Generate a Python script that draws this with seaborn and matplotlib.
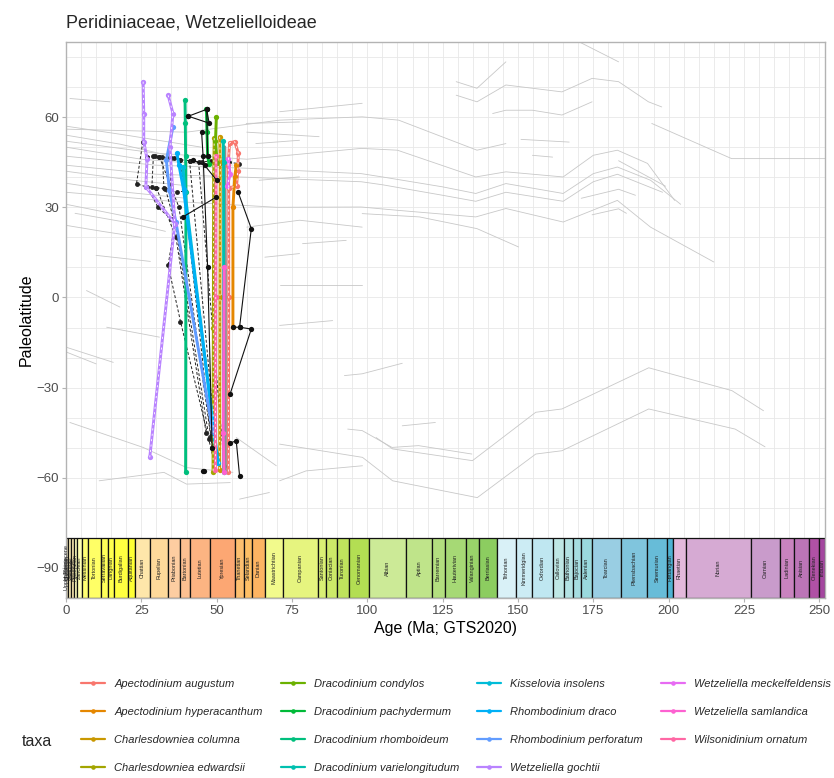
import numpy as np
import pandas as pd
import matplotlib
matplotlib.use("Agg")
import matplotlib.pyplot as plt
from matplotlib.lines import Line2D
import seaborn as sns

# ---- data -----------------------------------------------------------------
taxa = ["Apectodinium augustum", "Apectodinium hyperacanthum", "Charlesdowniea columna",
        "Charlesdowniea edwardsii", "Dracodinium condylos", "Dracodinium pachydermum",
        "Dracodinium rhomboideum", "Dracodinium varielongitudum", "Kisselovia insolens",
        "Rhombodinium draco", "Rhombodinium perforatum", "Wetzeliella gochtii",
        "Wetzeliella meckelfeldensis", "Wetzeliella samlandica", "Wilsonidinium ornatum"]
taxa_colors = ["#F8766D", "#E58700", "#C99800", "#A3A500", "#6BB100", "#00BA38", "#00BF7D",
               "#00C0AF", "#00BCD8", "#00B0F6", "#619CFF", "#B983FF", "#E76BF3", "#FD61D1",
               "#FF67A4"]

# occurrence paths per taxon: list of (ages, paleolatitudes) segments
taxa_paths = {
    "Apectodinium augustum": [([53.8, 54.3, 56.0, 57.2, 57.0, 56.6, 54.0, 53.8], [44, 51.5, 51.8, 48, 42, 37, 36.5, 44]),
                              ([54.0, 54.0, 53.9], [36.5, 0, -58])],
    "Apectodinium hyperacanthum": [([56.5, 56.0, 55.4, 55.4], [44, 40, 30, -9.9])],
    "Charlesdowniea columna": [([51.0, 51.2, 51.1, 51.0], [53.5, 45, 0, -57.5])],
    "Charlesdowniea edwardsii": [([49.2, 49.0, 48.9, 48.8], [53, 40, -10, -58])],
    "Dracodinium condylos": [([49.9, 49.6, 50.2], [60, 52, 44.7])],
    "Dracodinium pachydermum": [([46.6, 46.8, 47.0, 47.5], [62.6, 55, 47, 44.5])],
    "Dracodinium rhomboideum": [([39.5, 39.6, 39.7, 39.8, 39.7], [65.7, 58, 47, 35, -58.2])],
    "Dracodinium varielongitudum": [([52.2, 52.3, 52.3], [52, 45, -58])],
    "Kisselovia insolens": [([38.8, 39.5, 48.5, 50.0], [43.4, 35, -40, -54.3])],
    "Rhombodinium draco": [([36.8, 37.5, 39.0, 50.5], [48, 44, 36, -55])],
    "Rhombodinium perforatum": [([35.5, 33.3, 34.3, 36.5, 48.8], [56.8, 45.7, 35.7, 25, -44.9])],
    "Wetzeliella gochtii": [([25.6, 25.8, 25.8, 26.9, 26.5, 36.1], [71.8, 61.2, 51.8, 46.2, 36.8, 24.6]),
                            ([27.8, 36.1], [-53.2, 24.6]),
                            ([33.9, 35.5, 34.5, 36.1], [67.3, 61.2, 50, 24.6])],
    "Wetzeliella meckelfeldensis": [([53.8, 54.5, 53.5], [46, 41, 37])],
    "Wetzeliella samlandica": [([52.5, 52.2, 52.4], [10, -45, -58])],
    "Wilsonidinium ornatum": [([49.8, 49.7, 49.6], [47, 0, -57.5])],
}
overlap_path = ([52.6, 52.8, 52.8], [50, 10, -58])

black_solid = [
    ([40.6, 46.7, 47.5, 40.6], [60.3, 62.6, 58, 60.3]),
    ([46.7, 47.0], [62.6, 47]),
    ([57.1, 61.5, 57.6], [35.1, 22.9, -9.9]),
    ([55.4, 57.6, 61.5, 54.5], [-9.9, -9.9, -10.5, -32]),
    ([54.3, 56.5, 57.6], [-48.5, -47.7, -59.3]),
    ([38.8, 49.9], [26.8, 33.4]),
    ([42.0, 46.0, 50.0], [45.7, 44, 39]),
    ([45.0, 45.5, 47.0, 48.5], [55, 47, 10, -50]),
    ([45.5, 45.9], [-57.7, -57.6]),
]
black_dashed = [
    ([25.5, 23.4, 26.5, 30.0, 33.0, 36.1], [51.8, 37.9, 36.8, 36.5, 36.2, 24.6]),
    ([26.9, 29.5, 31.0, 33.5, 36.0, 38.0, 41.0, 45.0, 48.0, 51.0, 54.0, 57.5],
     [46.8, 47, 46.8, 46.5, 46.3, 45.8, 45.5, 45, 45.5, 44.8, 45, 44.5]),
    ([29.0, 28.5], [47, 36.8]),
    ([32.0, 32.5], [46.8, 36.4]),
    ([35.0, 34.5, 37.0, 39.5], [46.3, 35.5, 35, 35.5]),
    ([34.5, 47.5], [35.5, -47]),
    ([36.1, 33.9, 38.0, 49.0], [24.6, 10.7, -8, -54]),
    ([38.0, 48.5], [45.8, -50]),
    ([41.0, 50.0], [45.5, -52]),
    ([30.0, 36.5, 46.5], [36.5, 20, -45]),
    ([44.0, 52.5], [45, -56]),
    ([27.0, 30.5, 35.0], [36.8, 30, 26]),
    ([31.0, 37.5, 48.0], [46.8, 30, -46]),
]

# background paleolatitude tracks of other occurrences
bg_tracks = [
    ([0, 30, 60, 98, 110, 136, 146, 165, 175, 183, 193, 202], [52, 48, 46, 49.6, 49, 40.1, 41.8, 40.1, 47.3, 49, 44.6, 32.3]),
    ([0, 30, 60, 98, 105, 125, 136, 146, 165, 175, 183, 194, 204], [47, 44, 43, 41.2, 40.1, 36.8, 34.6, 37.9, 34.6, 41.2, 43.4, 39, 31]),
    ([0, 30, 60, 98, 105, 125, 136, 146, 165, 175, 183, 198], [44, 41, 40, 38.5, 37.5, 34, 32, 35, 32, 38.5, 41, 35]),
    ([0, 35, 70, 98, 110, 136, 146, 165, 183, 194, 215], [35, 32, 30, 30.1, 29, 26.8, 29.6, 25.1, 32.3, 23.4, 11.8]),
    ([0, 40, 70.9, 98.3, 110.4, 136.4, 146], [56, 55, 59, 60.1, 59, 49, 51.2]),
    ([70.9, 98.3], [61.8, 64.6]),
    ([129.5, 136.4, 146, 164.6, 174.6, 183.4, 193.3, 197.7], [67.3, 65.1, 70.7, 68.4, 72.9, 71.8, 65.1, 63.4]),
    ([129.5, 136.4, 146], [71.8, 69.6, 78.4]),
    ([141.6, 146, 154.8, 164.6, 174.6], [61.2, 62.3, 62.3, 60.7, 65.1]),
    ([170.2, 183.4], [85.1, 78.4]),
    ([194.4, 220.9, 240.7, 251.9], [57.9, 46.2, 46.2, 46.2]),
    ([98.3, 117.3, 136.4, 150.2], [27.9, 26.8, 22.9, 16.8]),
    ([60, 77.5, 98.3], [23.4, 25.7, 23.4]),
    ([78.5, 93], [17.9, 19]),
    ([70.9, 98.3], [4.3, 4.3]),
    ([70.9, 88.5], [-9.3, -7.7]),
    ([92.4, 98.3, 111.6], [-26, -25.4, -21.9]),
    ([111.6, 122.6], [-42.7, -41.6]),
    ([93.5, 98.3, 108.2, 117, 134.7], [-43.8, -44.3, -49.9, -49.3, -52.1]),
    ([102.9, 108.4, 134.9, 155.9, 164.6, 193.4, 221, 231.5], [-46.6, -50.4, -54.3, -38.2, -37.1, -23.4, -31, -37.7]),
    ([70.9, 98.4, 108.4, 136.5, 155.9, 164.6, 193.4, 222.1, 232], [-48.8, -53.2, -61, -66.6, -52.1, -51, -37.1, -43.8, -49.7]),
    ([70.9, 79.7, 98.4], [-61, -57.7, -56]),
    ([1.3, 25.6, 40, 55.4], [-41.6, -49.9, -56.6, -58.2]),
    ([11, 32.5, 40, 54.5], [-61, -58.2, -62.1, -61.6]),
    ([57.6, 67.5], [-67.1, -64.9]),
    ([56.5, 69.8], [-46.6, -56]),
    ([0.2, 15.7], [-16.6, -21.6]),
    ([0.2, 10], [-18.2, -22.1]),
    ([13.5, 31], [-9.9, -13.2]),
    ([6.8, 17.9], [2.3, -3.2]),
    ([59.8, 77.5], [57.9, 58.4]),
    ([63, 77.5], [51.2, 52.3]),
    ([64.1, 77.5], [39, 40.1]),
    ([66, 77.5], [13.4, 14.6]),
    ([1.3, 14.6], [66.2, 65.1]),
    ([0, 20, 45], [57, 54, 50]),
    ([0, 25, 50], [50, 46, 44]),
    ([0, 20, 40], [38, 35, 33]),
    ([0, 15, 30], [31, 28, 25]),
    ([0, 12, 25], [24, 22, 20]),
    ([10, 28], [14, 12]),
    ([60, 84], [55, 53.5]),
    ([151, 167], [52.6, 51.7]),
    ([154.8, 161.5], [47.3, 46.7]),
    ([171, 183.4, 189], [33, 36, 34]),
    ([174.6, 183.4, 186], [27.5, 29.5, 28]),
    ([183.4, 199], [45.5, 37]),
    ([0, 18, 35], [54, 51, 47]),
    ([0, 22, 42], [42, 39, 37]),
    ([3, 20, 33], [28, 25, 22]),
]

# GTS2020 stages (base ages, Ma) and colours
stage_names = ["Holocene", "Upper Pleistocene", "Chibanian", "Calabrian", "Gelasian", "Piacenzian",
               "Zanclean", "Messinian", "Tortonian", "Serravallian", "Langhian", "Burdigalian",
               "Aquitanian", "Chattian", "Rupelian", "Priabonian", "Bartonian", "Lutetian",
               "Ypresian", "Thanetian", "Selandian", "Danian", "Maastrichtian", "Campanian",
               "Santonian", "Coniacian", "Turonian", "Cenomanian", "Albian", "Aptian", "Barremian",
               "Hauterivian", "Valanginian", "Berriasian", "Tithonian", "Kimmeridgian", "Oxfordian",
               "Callovian", "Bathonian", "Bajocian", "Aalenian", "Toarcian", "Pliensbachian",
               "Sinemurian", "Hettangian", "Rhaetian", "Norian", "Carnian", "Ladinian", "Anisian",
               "Olenekian", "Induan"]
stage_base = [0.0117, 0.129, 0.774, 1.80, 2.58, 3.60, 5.333, 7.246, 11.63, 13.82, 15.98, 20.44,
              23.03, 27.82, 33.9, 37.71, 41.2, 47.8, 56.0, 59.2, 61.6, 66.0, 72.1, 83.6, 86.3,
              89.8, 93.9, 100.5, 113.0, 121.4, 125.77, 132.6, 137.05, 143.1, 149.2, 154.8, 161.5,
              165.3, 168.2, 170.9, 174.7, 184.2, 192.9, 199.5, 201.4, 205.7, 227.3, 237.0, 241.5,
              246.7, 249.9, 251.902]
stage_colors = ["#FEEBD2", "#FFF2D3", "#FFF2C7", "#FFF2BA", "#FFEDB3", "#FFFFBF", "#FFFFB3",
                "#FFFF73", "#FFFF66", "#FFFF59", "#FFFF4D", "#FFFF41", "#FFFF33", "#FEE6AA",
                "#FED99A", "#FDCDA1", "#FDC091", "#FCB482", "#FCA773", "#FDBF6F", "#FEBF65",
                "#FDB462", "#F2FA8C", "#E6F47F", "#D9EF74", "#CCE968", "#BFE35D", "#B3DE53",
                "#CCEA97", "#BFE48A", "#B3DF7F", "#A6D975", "#99D36A", "#8CCD60", "#D9F1F7",
                "#CCECF4", "#BFE7F1", "#BFE7E5", "#B3E2E3", "#A6DDE0", "#9AD9DD", "#99CEE3",
                "#80C5DD", "#67BCD8", "#4EB3D3", "#E3B9DB", "#D6AAD3", "#C99BCB", "#C983BF",
                "#BC75B7", "#B051A5", "#A4469F"]

# ---- frames ---------------------------------------------------------------
def to_frame(paths, group):
    rows = []
    for i, (ages, lats) in enumerate(paths):
        for a, l in zip(ages, lats):
            rows.append({"age": a, "lat": l, "seg": f"{group}{i}"})
    return pd.DataFrame(rows)

bg_df = to_frame(bg_tracks, "bg")
taxa_df = pd.concat([to_frame(taxa_paths[t], t).assign(taxon=t) for t in taxa], ignore_index=True)
solid_df = to_frame(black_solid, "s")
dashed_df = to_frame(black_dashed, "d")
overlap_df = to_frame([overlap_path], "o")
palette = dict(zip(taxa, taxa_colors))
dashed_white = ["Wetzeliella gochtii", "Wilsonidinium ornatum", "Charlesdowniea edwardsii",
                "Charlesdowniea columna", "Apectodinium augustum"]

# ---- plot -----------------------------------------------------------------
sns.set_theme(style="white")
plt.rcParams["font.family"] = ["Liberation Sans", "DejaVu Sans"]

fig = plt.figure(figsize=(8.34, 7.78), dpi=100)
ax = fig.add_axes([66 / 834, 1 - 598 / 778, (825 - 66) / 834, (598 - 42) / 778])

for v in np.arange(0, 255, 5):
    ax.axvline(v, color="#e8e8e8", lw=0.6, zorder=0)
for h in np.arange(-100, 90, 10):
    ax.axhline(h, color="#e8e8e8", lw=0.6, zorder=0)

sns.lineplot(data=bg_df, x="age", y="lat", units="seg", estimator=None, sort=False,
             color="#c8c8c8", linewidth=0.6, ax=ax, zorder=1)

# timescale
tops = np.array(stage_base)
bottoms = np.concatenate([[0.0], tops[:-1]])
ax.bar(x=(tops + bottoms) / 2, height=20, width=tops - bottoms, bottom=-100,
       color=stage_colors, edgecolor="#111111", linewidth=0.9, zorder=2)
for name, b, t in zip(stage_names, bottoms, tops):
    ax.text((b + t) / 2, -90, name, rotation=90, ha="center", va="center",
            fontsize=4.0, color="#222222", zorder=3)

sns.lineplot(data=dashed_df, x="age", y="lat", units="seg", estimator=None, sort=False,
             color="#222222", linewidth=0.7, linestyle=(0, (3, 2)), ax=ax, zorder=4,
             marker="o", markersize=3.5, markeredgewidth=0)
sns.lineplot(data=overlap_df, x="age", y="lat", units="seg", estimator=None, sort=False,
             color="#8f8f8f", linewidth=2.6, ax=ax, zorder=5)
sns.lineplot(data=taxa_df, x="age", y="lat", hue="taxon", units="seg", estimator=None,
             sort=False, palette=palette, linewidth=2.1, marker="o", markersize=3.8,
             markeredgewidth=0, legend=False, ax=ax, zorder=5)
sns.lineplot(data=taxa_df[taxa_df.taxon.isin(dashed_white)], x="age", y="lat", units="seg",
             estimator=None, sort=False, color="white", linewidth=0.6,
             linestyle=(0, (2.5, 4)), ax=ax, zorder=6)
sns.lineplot(data=solid_df, x="age", y="lat", units="seg", estimator=None, sort=False,
             color="#111111", linewidth=0.8, ax=ax, zorder=7,
             marker="o", markersize=3.8, markeredgewidth=0)

ax.set_xlim(0, 251.902)
ax.set_ylim(-100, 85)
ax.set_xticks(np.arange(0, 251, 25))
ax.set_yticks([-90, -60, -30, 0, 30, 60])
ax.tick_params(axis="both", labelsize=9.5, colors="#4d4d4d", length=3, width=0.8,
               bottom=True, left=True, pad=2)
ax.tick_params(axis="both", color="#b3b3b3")
for s in ax.spines.values():
    s.set_color("#b3b3b3")
    s.set_linewidth(1.0)
ax.set_xlabel("Age (Ma; GTS2020)", fontsize=11.5, color="black", labelpad=3)
ax.set_ylabel("Paleolatitude", fontsize=11.5, color="black", labelpad=2)
fig.text(66 / 834, 1 - 23 / 778, "Peridiniaceae, Wetzelielloideae", fontsize=13,
         ha="left", va="center")

handles = [Line2D([0], [0], color=c, lw=1.6, marker="o", markersize=3.3, markeredgewidth=0)
           for c in taxa_colors]
fig.legend(handles, taxa, ncol=4, loc="center", bbox_to_anchor=(456 / 834, 1 - 726 / 778),
           frameon=False, prop={"style": "italic", "size": 8.0}, handlelength=2.2,
           columnspacing=1.6, labelspacing=1.6, handletextpad=0.8)
fig.text(22 / 834, 1 - 741 / 778, "taxa", fontsize=11.5, ha="left", va="center")

fig.savefig("out.png", dpi=100)
